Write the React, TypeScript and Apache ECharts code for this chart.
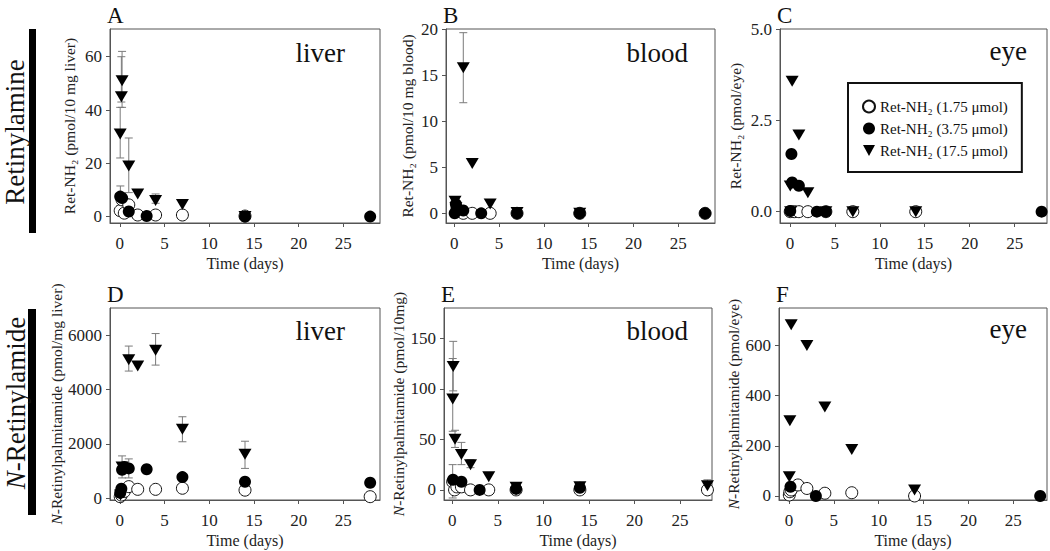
import React, { useEffect, useRef } from "react";
import * as echarts from "echarts";

const FONT = "'Liberation Serif', 'Times New Roman', serif";
const NAMES = ["Ret-NH₂ (1.75 μmol)", "Ret-NH₂ (3.75 μmol)", "Ret-NH₂ (17.5 μmol)"];
const X_TICKS = [0, 5, 10, 15, 20, 25];

// Panel A – Retinylamine, liver
const aEmpty = [[0.04, 2.2], [0.25, 6.3], [0.5, 1.3], [1, 4.4], [2, 0.6], [4, 0.6], [7, 0.6], [14, 0.2]];
const aFilled = [[0.04, 7.5], [0.25, 7], [1, 1.9], [3, 0.2], [14, 0], [28, 0]];
const aTri = [[0.04, 31], [0.17, 45], [0.25, 51], [1, 19], [2, 8.5], [4, 6], [7, 4.5], [14, 0]];
const aErr = [[0.04, 22, 41], [0.17, 43, 60], [0.25, 41, 62], [1, 9, 29.5], [4, 5, 8.5], [0.06, 4, 11.5]];
const aTicks = [0, 20, 40, 60];

// Panel B – Retinylamine, blood
const bEmpty = [[0.25, 0.2], [1, 0], [2, 0], [4, 0], [7, 0], [14, 0], [28, 0]];
const bFilled = [[0.04, 0], [0.17, 1.0], [0.25, 0.6], [0.5, 0.4], [1, 0.3], [3, 0], [7, 0], [14, 0], [28, 0]];
const bTri = [[0.08, 1.3], [0.17, 0.6], [1, 15.8], [2, 5.4], [4, 1.0], [7, 0.1], [14, 0]];
const bErr = [[1, 12.0, 19.6], [0.08, 0.9, 1.6]];
const bTicks = [0, 5, 10, 15, 20];

// Panel C – Retinylamine, eye
const cEmpty = [[0.04, 0], [0.5, 0], [1, 0], [2, 0], [4, 0], [7, 0], [14, 0]];
const cFilled = [[0.04, 0.02], [0.17, 1.58], [0.25, 0.8], [1, 0.71], [3, 0], [4, 0], [28, 0]];
const cTri = [[0.08, 0], [0.04, 0.7], [0.25, 3.57], [1, 2.1], [2, 0.52], [4, 0], [7, 0], [14, 0]];
const cErr: number[][] = [];
const cTicks = [0, 2.5, 5];

// Panel D – N-Retinylpalmitamide, liver
const dEmpty = [[0.04, 60], [0.17, 120], [0.5, 250], [1, 430], [2, 330], [4, 330], [7, 370], [14, 300], [28, 60]];
const dFilled = [[0.04, 200], [0.17, 350], [0.25, 1050], [0.5, 1150], [1, 1100], [3, 1070], [7, 780], [14, 610], [28, 570]];
const dTri = [[0.08, 120], [0.25, 1150], [1, 5100], [2, 4870], [4, 5450], [7, 2540], [14, 1620]];
const dErr = [[0.25, 750, 1560], [1, 4680, 5600], [4, 4900, 6060], [7, 2080, 3000], [14, 1100, 2100], [1, 750, 1450], [28, 420, 720]];
const dTicks = [0, 2000, 4000, 6000];

// Panel E – N-Retinylpalmitamide, blood
const eEmpty = [[0.04, 8], [0.25, 0], [0.5, 3], [1, 3], [2, 0], [4, 0], [7, 0], [14, 0], [28, 0]];
const eFilled = [[0.08, 10], [1, 8], [3, 0], [7, 1], [14, 2]];
const eTri = [[0.1, 122], [0.05, 90], [0.3, 50], [1, 35], [2, 25], [4, 13], [7, 2.5], [14, 3], [28, 4]];
const eErr = [[0.1, 98, 147], [0.05, 58, 130], [0.3, 42, 59], [1, 25, 47], [2, 22, 30], [28, 0, 10], [0.04, -8, 25]];
const eTicks = [0, 50, 100, 150];

// Panel F – N-Retinylpalmitamide, eye
const fEmpty = [[0.04, 4], [0.1, 17], [0.25, 24], [1, 44], [2, 30], [4, 11], [7, 13], [14, 0]];
const fFilled = [[0.17, 37], [3, 0], [28, 0]];
const fTri = [[0.04, 77], [0.1, 300], [0.25, 683], [2, 600], [4, 355], [7, 185], [14, 24]];
const fErr: number[][] = [];
const fTicks = [0, 200, 400, 600];

const TRI = "path://M0,0L10,0L5,9Z";

const panels = [
  { letter: "A", organ: "liver", yName: "Ret-NH₂ (pmol/10 mg liver)", ticks: aTicks, yMin: -2.4, yMax: 70.4, xMin: -1.1, xMax: 29.1,
    data: [aEmpty, aFilled, aTri], err: aErr, box: [110, 29, 380, 223], gap: 33, organPos: [345, 53], dec: 0 },
  { letter: "B", organ: "blood", yName: "Ret-NH₂ (pmol/10 mg blood)", ticks: bTicks, yMin: -1.05, yMax: 20, xMin: -0.93, xMax: 29.1,
    data: [bEmpty, bFilled, bTri], err: bErr, box: [446, 29, 715, 223], gap: 31, organPos: [688, 53], dec: 0 },
  { letter: "C", organ: "eye", yName: "Ret-NH₂ (pmol/eye)", ticks: cTicks, yMin: -0.31, yMax: 5, xMin: -1.1, xMax: 28.6,
    data: [cEmpty, cFilled, cTri], err: cErr, box: [780, 29, 1047, 223], gap: 37, organPos: [1027, 51], dec: 1 },
  { letter: "D", organ: "liver", yName: "{i|N}-Retinylpalmitamide (pmol/mg liver)", ticks: dTicks, yMin: -62, yMax: 7000, xMin: -1.1, xMax: 29.1,
    data: [dEmpty, dFilled, dTri], err: dErr, box: [110, 308, 380, 500], gap: 43, organPos: [345, 331], dec: 0 },
  { letter: "E", organ: "blood", yName: "{i|N}-Retinylpalmitamide (pmol/10mg)", ticks: eTicks, yMin: -10, yMax: 180, xMin: -0.91, xMax: 28.5,
    data: [eEmpty, eFilled, eTri], err: eErr, box: [444, 308, 712, 500], gap: 33, organPos: [688, 331], dec: 0 },
  { letter: "F", organ: "eye", yName: "{i|N}-Retinylpalmitamide (pmol/eye)", ticks: fTicks, yMin: -16, yMax: 750, xMin: -1.11, xMax: 28.76,
    data: [fEmpty, fFilled, fTri], err: fErr, box: [779, 308, 1047, 500], gap: 34, organPos: [1027, 329], dec: 0 },
];

const AX = "#555";

export default function App() {
  const ref = useRef<HTMLDivElement>(null);
  useEffect(() => {
    if (!ref.current) return;
    const chart = echarts.init(ref.current, null, { renderer: "svg" });
    const grid: any[] = [];
    const xAxis: any[] = [];
    const yAxis: any[] = [];
    const series: any[] = [];
    const graphic: any[] = [];

    panels.forEach((p, i) => {
      const [l, t, r, b] = p.box;
      grid.push({ left: l, top: t, width: r - l, height: b - t, show: true, borderColor: AX, borderWidth: 1, backgroundColor: "transparent" });
      xAxis.push({
        type: "value", gridIndex: i, min: p.xMin, max: p.xMax,
        name: "Time (days)", nameLocation: "middle", nameGap: 32,
        nameTextStyle: { fontFamily: FONT, fontSize: 16, color: "#222" },
        axisLine: { show: true, onZero: false, lineStyle: { color: AX } },
        axisTick: { show: true, length: 4, customValues: X_TICKS, lineStyle: { color: AX } },
        axisLabel: { customValues: X_TICKS, margin: 12, fontFamily: FONT, fontSize: 17, color: "#222" },
        splitLine: { show: false },
      });
      yAxis.push({
        type: "value", gridIndex: i, min: p.yMin, max: p.yMax,
        name: p.yName, nameLocation: "middle", nameGap: p.gap,
        nameTextStyle: { fontFamily: FONT, fontSize: 15.5, color: "#222", rich: { i: { fontFamily: FONT, fontSize: 15.5, fontStyle: "italic", color: "#222" } } },
        axisLine: { show: true, onZero: false, lineStyle: { color: AX } },
        axisTick: { show: true, length: 4, customValues: p.ticks, lineStyle: { color: AX } },
        axisLabel: { customValues: p.ticks, margin: 8, fontFamily: FONT, fontSize: 17, color: "#222",
          formatter: (v: number) => v.toFixed(p.dec) },
        splitLine: { show: false },
      });
      series.push({
        type: "custom", name: "err" + p.letter, xAxisIndex: i, yAxisIndex: i, z: 1,
        data: p.err, encode: { x: 0, y: [1, 2] }, silent: true,
        renderItem: (_params: any, api: any) => {
          const x = api.value(0), lo = api.value(1), hi = api.value(2);
          const a = api.coord([x, lo]);
          const c = api.coord([x, hi]);
          const w = 4;
          const st = { stroke: "#7a7a7a", lineWidth: 1 };
          return {
            type: "group",
            children: [
              { type: "line", shape: { x1: a[0], y1: a[1], x2: c[0], y2: c[1] }, style: st },
              { type: "line", shape: { x1: a[0] - w, y1: a[1], x2: a[0] + w, y2: a[1] }, style: st },
              { type: "line", shape: { x1: c[0] - w, y1: c[1], x2: c[0] + w, y2: c[1] }, style: st },
            ],
          };
        },
      });
      series.push({
        type: "scatter", name: NAMES[0], xAxisIndex: i, yAxisIndex: i, z: 3, clip: false,
        symbol: "circle", symbolSize: 12, data: p.data[0],
        itemStyle: { color: "#fff", borderColor: "#111", borderWidth: 1, opacity: 1 },
      });
      series.push({
        type: "scatter", name: NAMES[1], xAxisIndex: i, yAxisIndex: i, z: 4, clip: false,
        symbol: "circle", symbolSize: 12, data: p.data[1],
        itemStyle: { color: "#000", opacity: 1 },
      });
      series.push({
        type: "scatter", name: NAMES[2], xAxisIndex: i, yAxisIndex: i, z: 5, clip: false,
        symbol: TRI, symbolSize: [13, 11], data: p.data[2],
        itemStyle: { color: "#000", opacity: 1 },
      });
      graphic.push({ type: "text", left: l - 3, top: t - 25, style: { text: p.letter, font: `23px ${FONT}`, fill: "#111" } });
      graphic.push({ type: "text", x: p.organPos[0], y: p.organPos[1], style: { text: p.organ, font: `27px ${FONT}`, fill: "#111", textAlign: "right", textVerticalAlign: "middle" } });
    });

    graphic.push({ type: "rect", shape: { x: 29, y: 29, width: 7, height: 204 }, style: { fill: "#000" } });
    graphic.push({ type: "rect", shape: { x: 28, y: 309, width: 8, height: 206 }, style: { fill: "#000" } });
    graphic.push({ type: "text", x: 15, y: 132, rotation: Math.PI / 2,
      style: { text: "Retinylamine", font: `27px ${FONT}`, fill: "#111", textAlign: "center", textVerticalAlign: "middle" } });
    graphic.push({ type: "text", x: 16, y: 403, rotation: Math.PI / 2,
      style: { text: "{i|N}-Retinylamide", font: `27px ${FONT}`, fill: "#111", textAlign: "center", textVerticalAlign: "middle",
        rich: { i: { fontStyle: "italic", fontSize: 27, fontFamily: FONT, fill: "#111" } } } });

    chart.setOption({
      animation: false,
      backgroundColor: "#fff",
      grid, xAxis, yAxis, series, graphic,
      legend: {
        data: NAMES, orient: "vertical", left: 848, top: 83, width: 174,
        selectedMode: false, borderColor: "#111", borderWidth: 2,
        padding: [16, 14, 14, 14], itemGap: 7, itemWidth: 12, itemHeight: 12,
        textStyle: { fontFamily: FONT, fontSize: 15, color: "#111" },
        backgroundColor: "#fff",
      },
    });
    return () => chart.dispose();
  }, []);
  return <div ref={ref} style={{ position: "fixed", left: 0, top: 0, width: 1050, height: 551 }} />;
}
